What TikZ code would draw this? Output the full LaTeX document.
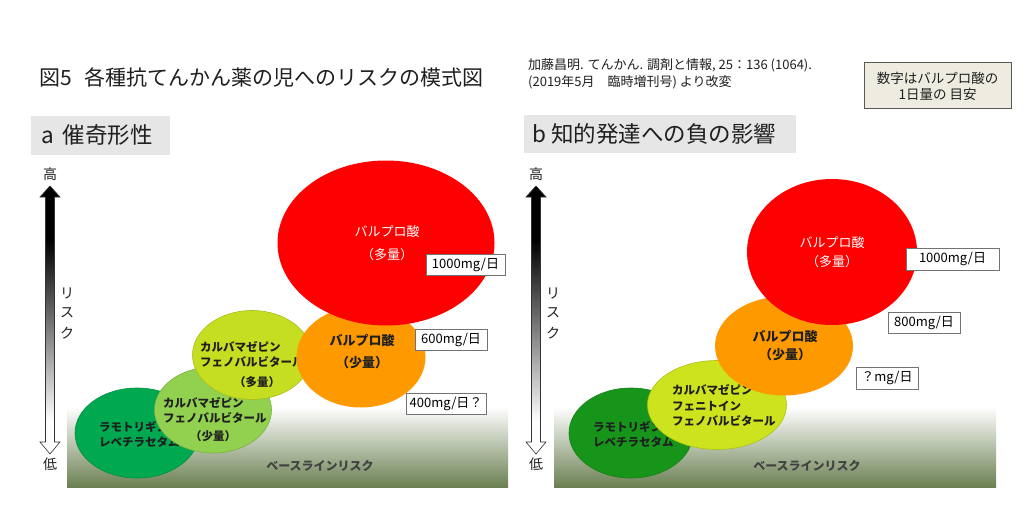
\documentclass[tikz,border=0pt]{standalone}
\usepackage{fontspec}
\setmainfont{Noto Sans CJK JP}
\usetikzlibrary{shapes.geometric}
\definecolor{hdrgray}{HTML}{E6E6E6}
\definecolor{notefill}{HTML}{EEECE1}
\definecolor{basegreen}{HTML}{6B8052}
\definecolor{vpred}{HTML}{FF0000}
\definecolor{vporange}{HTML}{FF9900}
\definecolor{yga}{HTML}{C6DE22}
\definecolor{ygb}{HTML}{CCE31E}
\definecolor{lga}{HTML}{92D050}
\definecolor{dga}{HTML}{00A84F}
\definecolor{dgb}{HTML}{17951A}
\definecolor{txtdark}{HTML}{1F1F1F}
\pgfdeclareverticalshading{riskarrow}{100bp}{color(0bp)=(white); color(31bp)=(white); color(65bp)=(black); color(100bp)=(black)}
\begin{document}
\begin{tikzpicture}[x=1pt,y=-1pt,
  ell/.style={ellipse, inner sep=0pt, line width=0.6pt},
  wlbl/.style={text=white, font=\fontsize{13}{15}\selectfont, inner sep=0pt},
  dlbl/.style={text=txtdark, font=\bfseries\fontsize{13}{15}\selectfont, inner sep=0pt},
  slbl/.style={text=txtdark, font=\bfseries\fontsize{11.5}{13}\selectfont, inner sep=0pt, anchor=west},
  sclbl/.style={text=txtdark, font=\bfseries\fontsize{11.5}{13}\selectfont, inner sep=0pt},
  dosebox/.style={draw=black!55, fill=white, line width=0.8pt, inner sep=0pt, font=\fontsize{13}{15}\selectfont},
  hdr/.style={fill=hdrgray, inner sep=0pt, font=\fontsize{22.5}{26}\selectfont, text=txtdark},
  axl/.style={font=\fontsize{14}{16}\selectfont, text=txtdark, inner sep=0pt},
  baselbl/.style={font=\bfseries\fontsize{12}{14}\selectfont, text=txtdark!85, inner sep=0pt},
  arrowshape/.style={shading=riskarrow, draw=black!80, line width=0.6pt}
]
\useasboundingbox (0,0) rectangle (1024,508);
\fill[white] (0,0) rectangle (1024,508);

% ---------- header ----------
\node[anchor=west, inner sep=0pt, font=\fontsize{21}{24}\selectfont, text=txtdark] (title) at (39,77) {図5\hspace{0.6em}各種抗てんかん薬の児へのリスクの模式図};
\node[anchor=west, inner sep=0pt, align=left, font=\fontsize{13}{17}\selectfont, text=txtdark] (cite) at (528,73.5) {加藤昌明. てんかん. 調剤と情報, 25：136 (1064).\\(2019年5月　臨時増刊号) より改変};
\node[draw=black!65, fill=notefill, line width=1pt, minimum width=147pt, minimum height=46pt, inner sep=0pt, align=center, font=\fontsize{13.5}{16}\selectfont, text=txtdark] (note) at (937.5,86) {数字はバルプロ酸の\\1日量の 目安};

\node[hdr, minimum width=139pt, minimum height=39pt, anchor=north west] (hdra) at (31,116) {};
\node[anchor=west, inner sep=0pt, font=\fontsize{22.5}{26}\selectfont, text=txtdark] (hdratxt) at (41,135.5) {a\hspace{0.4em}催奇形性};
\node[hdr, minimum width=272pt, minimum height=38pt, anchor=north west] (hdrb) at (524,115) {};
\node[anchor=west, inner sep=0pt, font=\fontsize{22.5}{26}\selectfont, text=txtdark] (hdrbtxt) at (532,134) {b 知的発達への負の影響};

% ---------- panel a ----------
\shade[top color=white, bottom color=basegreen] (67,407) rectangle (508,487);
\shade[arrowshape] (50,186) -- (60,197) -- (54.5,197) -- (54.5,442) -- (60,442) -- (50,454) -- (40,442) -- (45.5,442) -- (45.5,197) -- (40,197) -- cycle;
\node[axl] (hia) at (50,174) {高};
\node[axl] (loa) at (50,464) {低};
\node[axl] (ria1) at (67,293) {リ};
\node[axl] (ria2) at (67,313) {ス};
\node[axl] (ria3) at (67,333) {ク};

\node[ell, fill=dga, draw=dga!85!black, minimum width=124pt, minimum height=90pt] (dgA) at (137,433) {};
\node[slbl] (dgA1) at (99,427) {ラモトリギン};
\node[slbl] (dgA2) at (99,442) {レベチラセタム};

\node[ell, fill=lga, draw=lga!85!black, minimum width=117pt, minimum height=86pt] (lgA) at (213,410) {};
\node[slbl] (lgA1) at (163,403) {カルバマゼピン};
\node[slbl] (lgA2) at (163,418) {フェノバルビタール};
\node[sclbl] (lgA3) at (213,436) {（少量）};

\node[ell, fill=yga, draw=yga!85!black, minimum width=119pt, minimum height=89pt] (ygA) at (252,355) {};
\node[slbl] (ygA1) at (200,347) {カルバマゼピン};
\node[slbl] (ygA2) at (200,362) {フェノバルビタール};
\node[sclbl] (ygA3) at (257,382) {（多量）};

\node[ell, fill=vporange, minimum width=129pt, minimum height=101pt] (orA) at (361,357) {};
\node[dlbl] (orA1) at (362,340) {バルプロ酸};
\node[dlbl] (orA2) at (362,363) {（少量）};

\node[ell, fill=vpred, minimum width=217pt, minimum height=165pt] (rdA) at (386,243) {};
\node[wlbl] (rdA1) at (387,232) {バルプロ酸};
\node[wlbl] (rdA2) at (387,255) {（多量）};

\node[baselbl] (baseA) at (320,466) {ベースラインリスク};

\node[dosebox, minimum width=79pt, minimum height=21pt] (dA1) at (465.5,264.5) {1000mg/日};
\node[dosebox, minimum width=72pt, minimum height=21pt] (dA2) at (451,339.5) {600mg/日};
\node[dosebox, minimum width=80pt, minimum height=21pt] (dA3) at (446,403.5) {400mg/日？};

% ---------- panel b ----------
\shade[top color=white, bottom color=basegreen] (554,407) rectangle (996,487);
\shade[arrowshape] (536,186) -- (546,197) -- (540.5,197) -- (540.5,442) -- (546,442) -- (536,454) -- (526,442) -- (531.5,442) -- (531.5,197) -- (526,197) -- cycle;
\node[axl] (hib) at (536,174) {高};
\node[axl] (lob) at (536,464) {低};
\node[axl] (rib1) at (553,293) {リ};
\node[axl] (rib2) at (553,313) {ス};
\node[axl] (rib3) at (553,333) {ク};

\node[ell, fill=dgb, draw=dgb!85!black, minimum width=124pt, minimum height=90pt] (dgB) at (631,433) {};
\node[slbl] (dgB1) at (593,427) {ラモトリギン};
\node[slbl] (dgB2) at (593,442) {レベチラセタム};

\node[ell, fill=ygb, draw=ygb!85!black, minimum width=139pt, minimum height=89pt] (ygB) at (717,405) {};
\node[slbl] (ygB1) at (672,390) {カルバマゼピン};
\node[slbl] (ygB2) at (672,406) {フェニトイン};
\node[slbl] (ygB3) at (672,421) {フェノバルビタール};

\node[ell, fill=vporange, minimum width=138pt, minimum height=99pt] (orB) at (784,346) {};
\node[dlbl] (orB1) at (785,336) {バルプロ酸};
\node[dlbl] (orB2) at (785,355) {（少量）};

\node[ell, fill=vpred, minimum width=170pt, minimum height=146pt] (rdB) at (832,252) {};
\node[wlbl] (rdB1) at (832,243) {バルプロ酸};
\node[wlbl] (rdB2) at (832,262) {（多量）};

\node[baselbl] (baseB) at (807,466) {ベースラインリスク};

\node[dosebox, minimum width=93pt, minimum height=22pt] (dB1) at (952.5,259) {1000mg/日};
\node[dosebox, minimum width=72pt, minimum height=21pt] (dB2) at (924,322.5) {800mg/日};
\node[dosebox, minimum width=62pt, minimum height=22pt] (dB3) at (887,378) {？mg/日};
\end{tikzpicture}
\end{document}
